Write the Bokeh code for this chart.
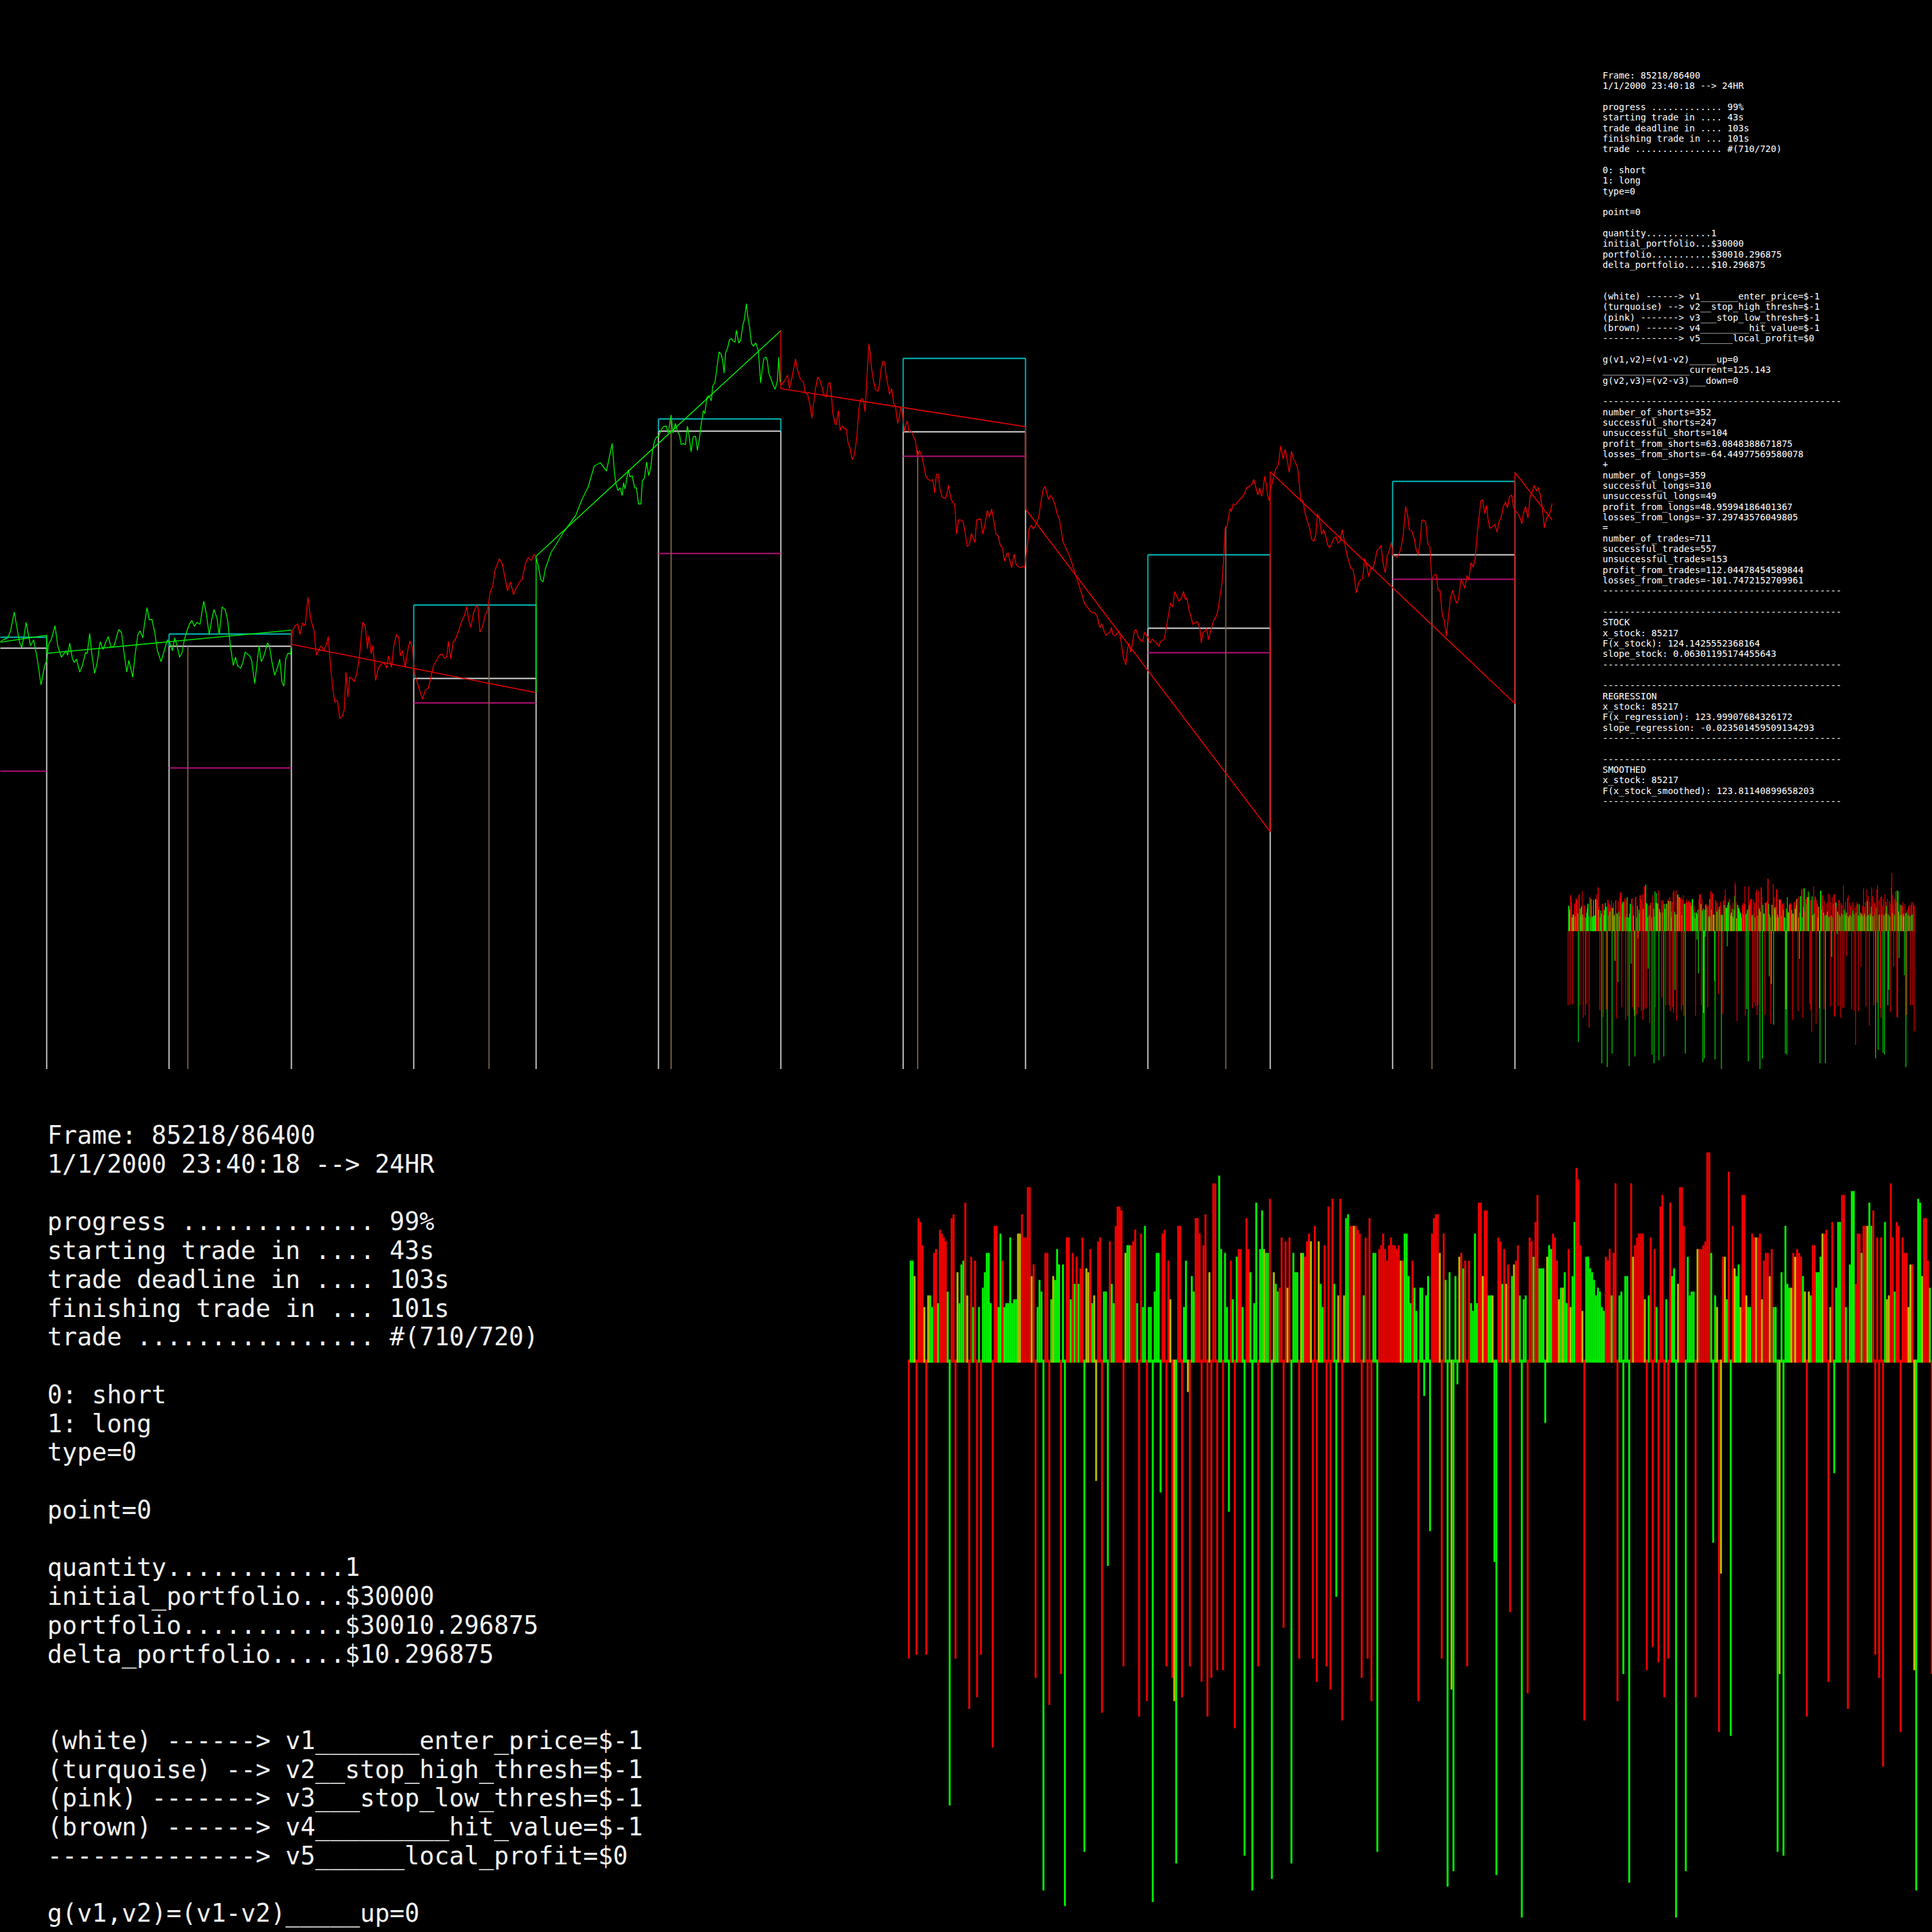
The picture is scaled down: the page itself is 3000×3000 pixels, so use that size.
import numpy as np
from bokeh.plotting import figure
from bokeh.models import Range1d, ColumnDataSource
from bokeh.layouts import row, column
from bokeh.embed import file_html
from bokeh.resources import INLINE
from bokeh.core.properties import value

# ============================ DATA ============================
# trade windows (seconds of the day), 120 s each; trend of the regression in each window
window_start = [84360, 84480, 84600, 84720, 84840, 84960, 85080, 85200]
window_trend_up = [1, 1, 0, 1, 0, 0, 0, 0]
reg_start_price = [121.53, 121.81, 121.95, 123.32, 125.92, 124.05, 124.63, 124.62]
reg_end_time = [84480, 84600, 84720, 84840, 84960, 85080, 85200, 85218.2]
reg_end_price = [122.09, 122.17, 121.20, 126.82, 125.33, 119.04, 121.03, 123.88]

# trade boxes (second half of every other window)
box_start = [84420, 84540, 84660, 84780, 84900, 85020, 85140]
enter_price = [121.89, 121.92, 121.42, 125.26, 125.25, 122.20, 123.34]
stop_high = [122.06, 122.11, 122.56, 125.45, 126.39, 123.34, 124.48]
stop_low = [119.98, 120.03, 121.04, 123.36, 124.87, 121.82, 122.96]
hit_time = [None, 84549.2, 84696.9, 84786.2, 84907.1, 85058.2, 85159.3]
hit_value = [None, 121.92, 122.54, 125.51, 124.96, 123.78, 122.95]

# stock price trace: (time s, price $)
price_trace = [
(84457.3,121.99),(84458.7,122.02),(84460.9,122.05),(84462.3,122.16),(84464.1,122.45),(84465.4,122.21),(84466.7,121.98),(84467.8,121.90),(84469.0,122.10),(84469.9,122.29),
(84471.0,122.10),(84472.1,121.93),(84473.6,122.02),(84475.4,121.72),(84477.2,121.32),(84479.0,121.62),(84480.1,121.70),(84480.8,121.94),(84482.3,122.03),(84484.1,122.24),
(84485.4,121.93),(84487.2,121.75),(84488.4,121.80),(84489.5,121.85),(84490.3,121.78),(84491.3,121.97),(84492.6,121.73),(84493.5,121.67),(84494.6,121.72),(84496.2,121.52),
(84497.5,121.62),(84499.0,121.82),(84499.9,121.81),(84501.1,122.12),(84502.2,121.78),(84503.5,121.50),(84504.8,121.67),(84506.2,121.99),(84507.7,121.87),(84508.9,121.98),
(84510.2,122.07),(84511.6,121.90),(84513.1,121.93),(84514.4,122.08),(84515.3,122.18),(84516.7,122.13),(84518.0,121.80),(84519.3,121.52),(84520.3,121.70),(84522.2,121.44),
(84523.4,121.80),(84524.7,122.10),(84525.8,122.16),(84527.1,122.05),(84528.0,122.28),(84529.2,122.52),(84530.3,122.33),(84531.6,122.34),(84533.0,122.13),(84534.3,121.85),
(84536.1,121.68),(84537.9,121.88),(84539.2,122.02),(84540.3,121.98),(84541.6,121.85),(84542.8,122.05),(84543.9,121.93),(84545.2,121.75),(84546.4,121.82),(84547.5,122.02),
(84548.8,122.16),(84550.1,122.27),(84551.2,122.32),(84552.4,122.23),(84553.7,122.29),(84555.2,122.26),(84556.1,122.44),(84557.0,122.62),(84558.2,122.44),(84559.7,122.10),
(84560.9,122.33),(84562.0,122.49),(84563.5,122.36),(84564.6,122.10),(84566.0,122.53),(84567.5,122.49),(84568.7,122.33),(84570.0,121.95),(84571.5,121.62),(84572.6,121.75),
(84573.6,121.62),(84575.1,121.58),(84576.2,121.67),(84577.3,121.83),(84578.4,121.80),(84579.6,121.77),(84580.5,121.70),(84582.0,121.34),(84583.2,121.67),(84584.2,121.93),
(84585.2,121.68),(84586.3,121.75),(84587.4,121.87),(84588.2,121.97),(84589.2,121.93),(84590.5,121.67),(84591.8,121.47),(84593.2,121.59),(84594.3,121.72),(84595.4,121.36),
(84596.3,121.30),(84597.2,121.72),(84598.3,121.81),(84599.6,121.80),(84599.9,121.90),
(84600.5,122.16),(84601.7,122.23),(84603.2,122.27),(84604.1,122.10),(84605.5,122.28),(84606.8,122.24),(84608.1,122.68),(84609.5,122.33),(84611.0,122.18),(84612.3,121.78),
(84613.5,121.87),(84614.6,121.93),(84615.9,121.85),(84617.2,121.95),(84618.1,122.07),(84619.1,121.64),(84620.4,121.24),(84621.3,121.05),(84622.6,121.08),(84623.7,120.80),
(84624.9,120.83),(84625.9,120.93),(84626.8,121.52),(84627.7,121.13),(84628.6,121.44),(84629.5,121.42),(84630.9,121.37),(84632.2,121.52),(84633.5,121.80),(84634.9,122.29),
(84636.2,122.24),(84637.3,121.88),(84638.0,122.08),(84639.1,121.80),(84640.0,121.93),(84641.3,121.39),(84642.5,121.57),(84644.0,121.64),(84645.4,121.67),(84646.7,121.58),
(84647.6,121.77),(84649.1,121.59),(84650.3,121.95),(84651.6,122.10),(84652.7,122.05),(84653.4,121.77),(84654.5,121.85),(84655.8,121.59),(84657.0,121.85),(84658.1,122.00),
(84659.4,121.90),(84660.3,121.51),(84661.7,121.36),(84663.0,121.22),(84664.3,121.10),(84665.7,121.24),(84667.2,121.27),(84668.4,121.44),(84669.7,121.62),(84671.2,121.70),
(84672.6,121.78),(84673.9,121.80),(84675.2,121.73),(84676.2,121.76),(84677.0,122.00),(84678.1,121.72),(84679.3,121.98),(84680.6,122.04),(84682.0,122.16),(84683.5,122.31),
(84684.8,122.39),(84686.0,122.53),(84687.1,122.31),(84688.0,122.21),(84689.3,122.44),(84690.7,122.55),(84691.5,122.53),(84692.4,122.14),(84693.8,122.23),(84695.1,122.41),
(84696.2,122.49),(84697.5,122.77),(84698.7,122.85),(84699.8,123.10),(84702.0,123.28),(84703.4,123.20),(84704.7,122.99),(84706.0,122.78),(84707.4,122.92),(84708.9,122.72),
(84710.3,122.83),(84712.0,122.92),(84713.2,122.96),(84714.7,123.20),(84716.1,123.30),(84717.6,123.25),(84719.0,123.35),(84719.9,123.30),
(84721.0,123.18),(84722.3,122.95),(84723.4,122.92),(84724.5,123.12),(84727.4,123.38),(84730.4,123.53),(84733.4,123.69),(84736.4,123.82),(84739.4,123.95),(84742.5,124.20),
(84745.5,124.39),(84748.5,124.72),(84751.5,124.77),(84754.5,124.64),
(84757.3,125.07),(84758.4,124.63),(84759.0,124.46),(84760.1,124.34),(84761.2,124.38),(84762.2,124.26),(84762.9,124.46),(84763.6,124.36),(84764.3,124.50),(84765.2,124.66),
(84766.0,124.55),(84767.1,124.57),(84768.3,124.38),(84769.2,124.38),(84770.2,124.13),(84771.4,124.13),(84772.1,124.49),(84773.1,124.53),(84774.2,124.78),(84775.2,124.57),
(84776.3,124.71),(84777.0,124.94),(84778.1,125.11),(84779.1,125.17),(84780.1,125.18),(84781.2,125.27),(84782.4,125.33),(84783.8,125.34),(84784.8,125.23),(84785.5,125.38),
(84786.2,125.51),(84787.1,125.23),(84788.3,125.38),(84789.4,125.25),(84790.4,125.19),(84791.1,125.05),(84792.2,125.07),(84793.2,125.05),(84794.2,125.34),(84795.0,125.19),
(84796.0,124.94),(84797.0,125.17),(84798.2,125.18),(84799.1,124.96),(84800.0,125.13),(84801.0,125.38),(84802.0,125.58),(84802.7,125.53),(84803.8,125.79),(84804.8,125.81),
(84805.9,125.73),(84806.6,125.96),(84807.7,126.02),(84808.7,126.25),(84809.7,126.49),(84810.8,126.45),(84811.5,126.35),(84812.2,126.16),(84812.9,126.48),(84813.9,126.55),
(84814.8,126.68),(84815.8,126.70),(84816.5,126.66),(84817.5,126.64),(84818.2,126.83),(84819.3,126.63),(84820.3,126.67),(84821.4,126.91),(84822.1,126.99),(84823.1,127.24),
(84823.8,127.04),(84824.7,126.87),(84825.6,126.62),(84826.6,126.58),(84827.7,126.63),(84828.9,126.52),(84829.4,126.33),(84830.1,126.01),(84830.9,126.23),(84831.7,126.39),
(84832.7,126.41),(84833.4,126.35),(84834.1,126.16),(84835.1,126.08),(84836.2,125.98),(84837.2,125.91),(84838.3,126.04),(84839.0,126.41),(84839.7,126.02),
(84840.4,125.98),(84841.1,126.01),(84841.8,126.04),(84843.3,126.13),(84844.2,125.92),(84845.4,126.08),(84846.4,126.25),(84847.2,126.38),(84848.2,126.21),(84849.2,126.10),
(84850.3,126.04),(84851.1,126.02),(84852.0,125.85),(84853.1,125.83),(84854.3,125.67),(84855.2,125.46),(84856.0,125.67),(84856.9,125.90),(84858.1,126.10),(84859.0,126.06),
(84860.2,125.94),(84861.3,125.81),(84862.3,125.79),(84863.3,126.00),(84864.1,126.02),(84864.8,125.83),(84865.5,125.54),(84866.5,125.38),(84867.2,125.36),(84868.2,125.58),
(84869.1,125.27),(84870.0,125.34),(84871.2,125.30),(84872.2,125.29),(84872.9,125.09),(84873.9,125.00),(84875.0,124.82),(84876.0,124.88),(84876.8,125.05),(84877.5,125.25),
(84878.2,125.59),(84879.1,125.75),(84879.9,125.77),(84880.6,125.73),(84881.3,125.56),(84882.0,125.96),(84883.2,126.62),(84883.9,126.45),(84884.6,126.21),(84885.6,126.02),
(84886.5,125.90),(84887.7,125.88),(84888.4,126.00),(84889.1,126.21),(84890.1,126.35),(84890.9,126.33),(84891.6,126.12),(84892.6,125.96),(84893.3,125.83),(84894.3,125.92),
(84895.4,125.69),(84896.3,125.63),(84897.3,125.38),(84898.2,125.50),(84898.9,125.63),(84899.6,125.54),(84900.6,125.25),(84901.1,125.34),(84902.0,125.42),(84902.9,125.25),
(84903.9,125.27),(84904.9,125.19),(84906.0,125.11),(84907.0,124.86),(84908.1,124.96),(84909.2,124.86),(84910.2,124.71),(84911.2,124.55),(84912.3,124.51),(84913.5,124.49),
(84914.5,124.51),(84915.4,124.30),(84916.3,124.59),(84917.3,124.59),(84918.0,124.36),(84919.1,124.24),(84920.1,124.22),(84920.8,124.22),(84921.5,124.30),(84922.2,124.42),
(84923.3,124.22),(84924.3,124.15),(84925.3,124.13),(84926.2,123.66),(84927.1,123.88),(84928.1,123.88),(84929.3,123.86),(84930.4,123.68),(84931.4,123.47),(84932.4,123.49),
(84933.5,123.67),(84934.2,123.61),(84935.2,123.53),(84936.0,123.88),(84937.0,123.89),(84938.0,123.90),(84939.1,123.66),(84940.3,123.84),(84941.2,124.03),(84942.2,123.93),
(84943.4,124.05),(84944.5,123.86),(84945.5,123.66),(84946.5,123.64),(84947.6,123.49),(84948.7,123.45),(84949.7,123.24),(84950.7,123.35),(84951.5,123.37),(84952.5,123.22),
(84953.2,123.14),(84954.4,123.35),(84955.3,123.20),(84956.3,123.16),(84957.5,123.14),(84958.6,123.16),(84959.6,123.14),
(84960.3,123.35),(84961.0,123.51),(84961.7,123.74),(84962.8,123.80),(84963.8,123.74),(84964.8,123.79),(84965.6,123.84),(84966.6,123.95),(84967.6,124.17),(84968.7,124.36),
(84969.6,124.40),(84970.4,124.30),(84971.3,124.20),(84972.2,124.26),(84973.2,124.22),(84974.4,124.13),(84975.5,123.97),(84976.5,123.91),(84977.5,123.72),(84978.3,123.55),
(84981.8,123.30),(84985.3,122.96),(84989.0,122.58),(84992.5,122.44),
(84994.1,122.44),(84995.3,122.37),(84996.4,122.21),(84997.4,122.27),(84998.6,122.15),(84999.5,122.09),(85000.4,122.12),(85001.4,122.14),(85002.1,122.21),(85002.9,122.10),
(85003.9,122.08),(85005.0,122.12),(85005.9,122.16),(85006.9,121.99),(85008.0,121.74),(85009.2,121.63),(85010.0,121.88),(85010.7,121.97),(85011.5,121.83),(85012.2,121.92),
(85013.3,122.15),(85014.2,122.18),(85015.3,122.06),(85016.5,122.01),(85017.5,121.99),(85018.3,122.14),(85019.3,122.09),(85020.1,122.06),(85021.0,121.97),(85022.1,122.03),
(85023.1,122.00),(85024.3,121.97),(85025.4,121.92),(85026.1,121.99),(85027.0,122.01),(85028.1,122.03),(85029.2,122.24),(85030.1,122.41),(85031.1,122.59),(85032.2,122.53),
(85033.1,122.77),(85034.1,122.70),(85035.2,122.62),(85036.4,122.66),(85037.5,122.77),(85038.4,122.64),(85039.1,122.68),(85040.2,122.48),(85041.2,122.37),(85042.1,122.26),
(85043.2,122.29),(85044.4,122.30),(85045.5,122.19),(85046.2,121.97),(85047.0,122.13),(85048.0,122.16),(85048.8,122.20),(85049.7,122.02),(85050.8,122.17),(85051.5,122.24),
(85052.4,122.33),(85053.3,122.37),(85054.2,122.45),(85055.3,122.68),(85056.4,122.91),(85057.3,123.35),(85057.9,123.75),(85058.8,123.78),(85059.5,123.91),(85060.3,124.06),
(85060.9,124.01),(85061.8,124.13),(85062.9,124.11),(85063.9,124.16),(85065.1,124.20),(85066.3,124.24),(85067.4,124.29),(85068.4,124.38),(85069.7,124.40),(85070.9,124.43),
(85071.9,124.51),(85073.0,124.38),(85073.9,124.27),(85074.9,124.38),(85075.7,124.25),(85076.4,124.31),(85077.2,124.56),(85078.1,124.42),(85078.7,124.27),(85079.5,124.18),
(85080.2,124.39),(85081.0,124.45),(85081.7,124.56),(85082.8,124.68),(85084.0,124.74),(85085.1,125.03),(85086.3,124.83),(85087.3,124.98),(85088.5,124.78),(85089.3,124.62),
(85090.4,124.95),(85091.3,124.83),(85092.3,124.78),(85093.4,124.69),(85094.1,124.49),(85095.0,124.18),(85096.1,124.18),(85097.1,123.98),(85098.4,123.84),(85099.4,123.75),
(85100.3,123.58),(85101.4,123.55),(85102.3,123.64),(85103.2,123.98),(85104.1,123.89),(85105.2,123.66),(85106.2,123.73),(85107.1,123.64),(85108.2,123.49),(85109.2,123.45),
(85110.1,123.51),(85111.2,123.60),(85112.3,123.62),(85113.2,123.52),(85114.2,123.55),(85115.3,123.73),(85116.2,123.58),(85117.2,123.40),(85118.3,123.26),(85119.5,123.13),
(85120.6,123.11),(85121.5,122.93),(85122.2,122.75),(85123.3,122.90),(85124.3,122.95),(85125.3,122.97),(85126.3,123.28),(85127.4,123.16),(85128.3,123.00),(85129.3,123.14),
(85130.4,123.13),(85131.3,123.24),(85132.4,123.41),(85133.4,123.43),(85134.3,123.49),(85135.4,123.20),(85136.4,123.06),(85137.3,123.32),(85138.4,123.41),(85139.5,123.54),
(85140.2,123.33),(85141.0,123.32),(85142.2,123.30),(85143.2,123.36),(85144.1,123.44),(85145.2,123.64),(85146.4,124.09),(85147.5,123.93),(85148.2,123.73),(85149.4,123.71),
(85150.5,123.60),(85151.5,123.43),(85152.5,123.34),(85153.5,123.53),(85154.3,123.87),(85155.3,123.88),(85156.2,123.85),(85157.3,123.51),(85158.3,123.46),(85159.2,122.95),
(85160.3,123.02),(85161.4,123.04),(85162.3,122.79),(85163.3,122.78),(85164.4,122.39),(85165.3,122.33),(85166.4,122.08),(85167.4,122.39),(85168.3,122.66),(85169.4,122.79),
(85170.4,122.68),(85171.3,122.59),(85172.4,122.66),(85173.5,122.95),(85174.4,122.91),(85175.4,122.82),(85176.5,123.02),(85177.4,122.95),(85178.4,123.22),(85179.5,123.15),
(85180.4,123.26),(85181.5,123.66),(85182.4,123.93),(85183.3,124.18),(85184.2,124.19),(85185.2,123.98),(85186.0,124.11),(85186.9,123.87),(85187.8,123.75),(85189.0,123.78),
(85190.1,123.81),(85191.3,123.69),(85192.0,123.84),(85193.3,123.93),(85194.3,124.09),(85195.4,124.16),(85196.3,124.07),(85197.3,124.24),(85198.4,124.27),(85199.3,124.07),
(85200.3,124.02),(85201.4,123.98),(85202.3,123.93),(85203.4,123.82),(85204.1,123.98),(85205.2,124.09),(85206.4,123.91),(85207.4,124.24),(85208.4,124.31),(85209.4,124.42),
(85210.5,124.33),(85211.4,124.39),(85212.4,124.27),(85213.5,124.06),(85214.4,123.76),(85215.5,123.91),(85216.5,123.95),(85217.4,124.01),(85218.2,124.14),
]

# profit / loss of every closed trade ($); side: 0 short (red), 1 long (green), 2 blended
trade_profit = [
-0.77,0.26,0.26,0.22,-0.76,0.37,0.36,0.30,0.14,-0.76,
0.17,0.17,0.14,0.28,0.29,0.15,0.34,0.33,0.32,0.31,
0.18,-1.15,0.37,0.38,-0.77,0.23,0.15,0.25,0.26,0.41,
0.17,-0.90,0.27,0.14,0.26,-0.87,0.14,-0.76,0.19,0.23,
0.28,0.28,0.15,-1.00,0.35,0.35,0.14,0.33,0.26,0.14,
0.15,0.15,0.32,0.15,0.16,0.16,0.33,0.33,0.38,0.32,
0.32,0.45,0.45,0.22,0.25,-0.82,0.14,0.21,0.18,-1.37,
0.28,0.28,-0.89,0.16,0.22,0.21,0.29,0.25,-0.81,0.25,
-1.41,0.32,0.32,0.16,0.28,0.20,0.27,0.20,0.24,0.32,
-1.27,0.24,0.23,0.29,0.15,0.17,-0.31,0.31,0.32,-0.91,
0.18,0.18,-0.53,0.31,0.20,0.15,0.35,0.40,0.40,0.39,
-0.79,0.28,0.30,0.30,0.30,0.31,0.34,0.15,-0.92,0.33,
0.14,0.35,-0.88,0.14,0.14,-1.40,0.18,0.28,0.28,-0.34,
0.33,0.34,-0.79,0.26,0.16,-0.82,-0.88,-1.30,0.35,0.35,
-0.87,0.14,0.26,-0.08,-0.79,0.22,0.18,0.37,0.37,0.33,
-0.83,0.30,0.38,-0.92,0.23,-0.82,0.46,0.46,-0.80,0.48,
0.29,-0.80,0.28,0.14,-0.39,0.26,0.16,-0.95,0.27,0.29,
0.29,0.14,-1.28,0.37,0.29,0.23,-1.37,0.15,0.41,-0.79,
0.29,0.39,0.29,0.28,0.28,0.42,-1.34,0.23,0.20,0.18,
0.19,0.32,-0.69,0.31,0.19,0.32,-1.30,0.28,0.23,0.23,
-0.77,0.28,0.28,0.27,0.31,0.33,0.31,-0.77,0.35,-0.83,
0.31,0.20,0.14,0.30,-0.79,0.40,-0.85,0.42,0.20,-0.61,
0.17,0.42,-0.93,0.17,0.37,0.38,0.35,0.35,0.35,0.35,
0.34,0.33,-0.82,0.17,0.32,-0.77,0.37,-0.88,0.28,0.28,
-1.27,0.29,0.30,0.33,0.29,0.26,0.30,0.32,0.30,0.30,
0.29,0.30,0.26,0.26,0.33,0.33,0.22,0.15,0.26,0.19,
0.13,-0.88,0.19,0.19,-0.09,0.17,0.22,-0.44,0.33,0.37,
0.38,0.38,0.28,-0.77,0.33,0.21,-1.36,0.23,-0.85,-1.32,
0.22,-0.06,0.27,0.28,0.24,0.26,-0.79,0.26,0.15,0.13,
0.33,0.15,0.41,0.41,0.22,0.39,0.39,0.17,0.17,0.17,
-0.52,-1.33,0.32,0.31,0.20,0.29,0.20,0.25,-0.65,0.22,
0.25,0.26,0.30,0.17,-1.44,0.16,0.17,-0.86,0.32,0.31,
0.27,0.36,0.43,0.24,0.24,0.24,-0.16,0.27,0.30,0.29,
0.33,0.32,0.26,0.16,0.19,0.19,0.23,0.15,0.29,0.14,
0.22,0.36,0.50,0.47,0.30,0.13,-0.93,0.27,0.27,0.24,
0.23,0.21,0.17,0.19,0.18,0.14,0.13,0.27,0.26,0.29,
0.17,0.28,0.46,-0.88,0.17,0.18,-0.81,0.22,0.22,-1.35,
0.46,0.27,0.30,0.32,0.33,0.33,0.33,0.16,-0.80,0.17,
0.32,-0.74,0.29,0.14,-0.78,0.40,0.43,-0.87,0.16,-0.77,
0.41,0.22,0.24,-1.44,0.20,0.45,0.45,0.35,-1.32,0.27,
0.17,0.18,0.18,-0.87,0.29,0.29,0.29,0.30,0.31,0.54,
0.54,0.28,-0.47,0.17,0.14,-0.96,-0.55,0.27,0.27,0.16,
0.49,-0.97,0.35,0.24,0.22,0.25,0.14,0.43,0.43,0.17,
0.14,0.14,0.33,0.32,0.32,0.32,0.33,0.16,0.26,0.28,
0.28,0.22,0.29,0.14,0.14,-1.27,-0.81,0.23,-1.28,0.35,
0.20,0.19,0.19,0.28,0.27,0.29,0.28,0.27,0.22,0.18,
-0.92,0.18,0.17,0.30,0.30,0.23,0.23,0.27,0.33,0.33,
0.34,-0.83,0.14,0.36,-0.29,0.19,0.36,0.36,0.43,0.43,
0.14,-0.90,0.25,0.44,0.44,0.20,0.33,0.33,0.28,0.35,
0.35,0.35,0.41,0.35,0.39,-0.76,0.32,-0.82,0.32,-1.05,
0.36,0.16,0.17,0.46,0.32,0.18,0.36,0.35,-0.96,0.32,
0.28,0.28,0.14,0.25,0.25,-0.80,-1.37,0.42,0.41,0.22,
0.37,0.37,0.26,0.19,-0.81,0.31,0.16,-1.37,0.17,0.28,
0.16,0.20,0.30,0.39,0.14,0.15,0.37,0.30,-0.78,0.16,
-0.27,0.35,0.14,0.28,0.38,-0.88,0.38,-0.89,0.30,0.29,
0.25,-0.03,0.20,-0.78,0.32,0.17,0.32,0.15,-0.90,0.29,
0.18,0.27,-0.80,0.17,0.47,-0.79,0.22,0.18,0.30,0.16,
0.19,-0.26,0.34,0.15,0.37,0.14,0.16,0.29,0.17,0.26,
0.15,-0.81,0.30,0.21,0.18,0.27,-0.83,0.17,0.24,-1.18,
0.19,0.27,0.30,0.28,0.16,-0.83,0.28,0.27,0.15,0.19,
-0.37,0.17,0.18,0.26,0.15,0.44,0.16,0.25,0.18,0.30,
-0.78,0.15,0.43,0.31,0.16,0.36,0.17,-0.98,0.30,0.15,
0.18,0.25,0.45,0.16,0.36,0.15,-0.77,0.30,0.17,0.28,
-1.32,0.24,0.43,-0.74,0.47,-1.23,0.16,0.32,0.17,-0.80,
0.35,-0.90,0.36,0.17,0.26,-1.26,0.33,0.16,-1.28,0.38,
0.18,0.30,0.26,0.18,0.33,-0.77,0.17,-0.61,0.31,0.15,
-0.84,0.28,0.45,0.60,0.37,0.19,0.27,-0.37,0.17,0.33,
0.16,0.41,0.30,-0.89,0.42,-0.90,0.41,0.20,-0.28,0.28,
0.16,0.26,0.27,0.17,0.26,0.16,0.30,0.18,0.15,-0.46,
0.28,0.18,-1.41,0.19,-0.87,0.22,0.16,0.25,0.17,0.27,
0.15,-0.77,0.27,0.16,0.30,0.17,-0.77,0.30,0.27,-1.04,0.26,
]
trade_side = [
0,1,1,2,0,0,0,0,2,0, 2,1,1,0,0,1,0,0,0,0, 1,1,0,0,0,2,1,1,1,0, 2,0,0,1,0,0,1,0,1,1,
1,1,1,0,0,0,1,1,0,1, 1,1,1,1,1,1,2,2,0,0, 0,0,0,2,0,0,1,1,1,1, 0,0,0,1,2,1,1,1,0,1,
1,0,0,1,0,1,0,1,0,0, 1,2,2,0,1,2,2,0,0,0, 1,1,1,0,1,1,0,0,0,0, 0,2,1,1,0,0,0,1,0,0,
1,1,0,1,1,1,1,1,1,1, 0,0,0,0,2,0,2,1,0,0, 0,1,1,2,0,1,1,0,0,0, 0,0,0,0,2,0,0,0,0,1,
1,0,1,1,1,0,1,0,1,0, 0,1,1,0,0,1,1,1,1,0, 1,1,2,1,1,0,1,2,1,1, 0,0,0,0,2,0,1,1,1,1,
0,2,1,0,0,0,2,0,0,0, 2,1,1,0,0,0,0,0,1,1, 2,0,0,2,1,1,0,0,2,0, 0,0,0,1,0,0,0,0,1,1,
1,0,0,0,0,0,0,0,0,0, 0,0,2,0,1,1,1,1,0,1, 1,0,1,1,1,1,1,1,0,0, 0,0,2,0,0,1,1,1,2,1,
1,1,2,0,1,0,0,0,1,1, 1,1,0,0,2,0,0,1,1,2, 1,1,0,0,1,0,2,0,0,1, 2,0,0,1,1,1,1,0,0,0,
1,0,0,1,1,1,1,2,1,1, 0,0,0,2,1,2,1,1,0,2, 1,1,0,0,0,2,0,1,1,1, 1,1,1,1,1,1,1,0,0,0,
1,0,0,0,1,1,1,1,1,1, 0,2,0,0,0,0,0,2,0,1, 0,0,0,1,0,0,0,0,1,0, 0,1,1,1,2,0,0,0,1,1,
1,1,1,0,2,0,0,0,0,0, 0,1,1,1,2,0,2,0,2,1, 0,1,0,2,1,1,2,0,0,2, 1,1,0,0,2,0,0,2,0,0,
0,2,0,1,1,1,2,1,1,1, 1,1,2,0,2,0,0,0,1,2, 0,2,1,0,0,1,1,1,2,0, 0,0,2,0,1,1,1,1,0,0,
1,0,1,1,1,0,0,0,1,0, 0,2,1,1,0,0,0,0,0,0, 1,2,2,0,0,1,0,0,0,0, 0,0,2,2,0,2,1,1,1,2,
0,0,0,1,0,0,1,1,1,0, 1,2,0,0,1,1,0,0,0,1, 1,0,1,0,0,0,0,0,1,1, 0,1,2,0,0,1,0,1,0,0,
1,0,0,1,0,0,1,1,0,1, 2,0,0,1,0,2,1,0,1,0, 1,0,0,1,1,0,0,1,0,0, 1,0,0,0,1,0,1,0,1,2,
0,1,1,0,1,0,1,0,2,0, 0,1,0,1,1,0,1,0,0,1, 2,1,0,1,0,1,0,0,1,0, 1,1,0,0,0,1,1,0,1,0,
0,0,0,1,0,1,0,1,1,0, 1,0,1,2,0,1,1,1,0,1, 0,0,0,0,0,2,0,0,1,0, 1,0,0,0,1,0,1,2,1,0,
1,0,1,1,0,1,0,2,1,1, 0,1,1,1,0,0,1,0,1,0, 1,0,0,1,0,1,0,0,0,0,0,
]

DASH = "-" * 44
info_lines = [
"Frame: 85218/86400",
"1/1/2000 23:40:18 --> 24HR",
"",
"progress ............. 99%",
"starting trade in .... 43s",
"trade deadline in .... 103s",
"finishing trade in ... 101s",
"trade ................ #(710/720)",
"",
"0: short",
"1: long",
"type=0",
"",
"point=0",
"",
"quantity............1",
"initial_portfolio...$30000",
"portfolio...........$30010.296875",
"delta_portfolio.....$10.296875",
"",
"",
"(white) ------> v1_______enter_price=$-1",
"(turquoise) --> v2__stop_high_thresh=$-1",
"(pink) -------> v3___stop_low_thresh=$-1",
"(brown) ------> v4_________hit_value=$-1",
"--------------> v5______local_profit=$0",
"",
"g(v1,v2)=(v1-v2)_____up=0",
"________________current=125.143",
"g(v2,v3)=(v2-v3)___down=0",
"",
DASH,
"number_of_shorts=352",
"successful_shorts=247",
"unsuccessful_shorts=104",
"profit_from_shorts=63.0848388671875",
"losses_from_shorts=-64.44977569580078",
"+",
"number_of_longs=359",
"successful_longs=310",
"unsuccessful_longs=49",
"profit_from_longs=48.95994186401367",
"losses_from_longs=-37.29743576049805",
"=",
"number_of_trades=711",
"successful_trades=557",
"unsuccessful_trades=153",
"profit_from_trades=112.04478454589844",
"losses_from_trades=-101.7472152709961",
DASH,
"",
DASH,
"STOCK",
"x_stock: 85217",
"F(x_stock): 124.1425552368164",
"slope_stock: 0.06301195174455643",
DASH,
"",
DASH,
"REGRESSION",
"x_stock: 85217",
"F(x_regression): 123.99907684326172",
"slope_regression: -0.023501459509134293",
DASH,
"",
DASH,
"SMOOTHED",
"x_stock: 85217",
"F(x_stock_smoothed): 123.81140899658203",
DASH,
]

# ============================ STYLE / LAYOUT ============================
WINDOW = 120
BOX_OFFSET = 60
UP_C, DOWN_C = "#00e800", "#e80000"
WHITE_C, CYAN_C, PINK_C, BROWN_C = "#d9d9d9", "#00c4c4", "#b8107a", "#806446"
SIDE_COLORS = {0: "#f00000", 1: "#00f000", 2: "#bcbc00"}
MONO = "DejaVu Sans Mono"
BLACK_CSS = {"background-color": "#000000"}


def make_fig(w, h, xr, yr):
    f = figure(width=w, height=h, x_range=xr, y_range=yr, output_backend="svg",
               toolbar_location=None, min_border=0, x_axis_location=None,
               y_axis_location=None, background_fill_color="black",
               border_fill_color="black", outline_line_color=None,
               styles=BLACK_CSS)
    f.outline_line_color = None
    f.outline_line_alpha = 0
    f.grid.visible = False
    return f


# ---------------- price panel ----------------
PRICE_W, PRICE_H = 2420, 1660
T_LEFT, T_RIGHT = 84457.26, 85221.5
P_LO, P_HI = 115.35, 131.95
fp = make_fig(PRICE_W, PRICE_H, Range1d(T_LEFT, T_RIGHT), Range1d(P_LO, P_HI))

white_x, white_y, cyan_x, cyan_y, pink_x, pink_y, brown_x, brown_y = [], [], [], [], [], [], [], []
for j, b0 in enumerate(box_start):
    x0, x1 = b0, b0 + BOX_OFFSET
    e, hi, lo = enter_price[j], stop_high[j], stop_low[j]
    white_x += [[x0, x0], [x1, x1], [x0, x1]]
    white_y += [[P_LO, e], [P_LO, e], [e, e]]
    cyan_x += [[x0, x0], [x1, x1], [x0, x1]]
    cyan_y += [[e, hi], [e, hi], [hi, hi]]
    pink_x.append([x0, x1]); pink_y.append([lo, lo])
    if hit_time[j] is not None:
        brown_x.append([hit_time[j], hit_time[j]]); brown_y.append([P_LO, hit_value[j]])

fp.multi_line(white_x, white_y, line_color=WHITE_C, line_width=1.8)
fp.multi_line(pink_x, pink_y, line_color=PINK_C, line_width=1.8)
fp.multi_line(brown_x, brown_y, line_color=BROWN_C, line_width=1.8)
fp.multi_line(cyan_x, cyan_y, line_color=CYAN_C, line_width=1.8)

# regression lines with jumps at window starts
prev = None
for k, ws in enumerate(window_start):
    xs = [ws, reg_end_time[k]]
    ys = [reg_start_price[k], reg_end_price[k]]
    if prev is not None:
        xs = [ws] + xs
        ys = [prev] + ys
    fp.line(xs, ys, line_color=UP_C if window_trend_up[k] else DOWN_C, line_width=1.6)
    prev = reg_end_price[k]

# price line coloured by window trend
pt = np.array([a for a, _ in price_trace])
pp = np.array([b for _, b in price_trace])
for k, ws in enumerate(window_start):
    idx = np.where((pt >= ws) & (pt < ws + WINDOW))[0]
    if len(idx) == 0:
        continue
    if idx[0] > 0:
        idx = np.concatenate([[idx[0] - 1], idx])
    fp.line(pt[idx], pp[idx], line_color=UP_C if window_trend_up[k] else DOWN_C, line_width=1.4)


# ---------------- text panels ----------------
def text_fig(w, h, x0, base_px, step_px, size_px, color):
    yr = Range1d(start=(h - base_px) / step_px, end=-base_px / step_px)
    f = make_fig(w, h, Range1d(0, w), yr)
    # only the lines that fit inside the panel are shown (the rest is cut by the panel edge)
    rows = [(i, s) for i, s in enumerate(info_lines)
            if s and base_px + i * step_px + 0.25 * size_px <= h]
    src = ColumnDataSource(dict(x=[x0] * len(rows), y=[i for i, _ in rows], t=[s for _, s in rows]))
    f.text(x="x", y="y", text="t", source=src, text_font=value(MONO),
           text_font_size=value("%.1fpx" % size_px), text_color=color,
           text_baseline="alphabetic", text_align="left")
    return f


f_info = text_fig(580, 1340, 68, 116.6, 16.33, 14, "#ffffff")
f_bigtext = text_fig(1409, 1340, 73, 102.1, 44.75, 38.4, "#f2f2f2")


# ---------------- bar panels ----------------
def bar_fig(w, h, left_px, px_per_bar, zero_from_top, px_per_unit, bar_w):
    x_start = -left_px / px_per_bar
    xr = Range1d(x_start, x_start + w / px_per_bar)
    yr = Range1d(-(h - zero_from_top) / px_per_unit, zero_from_top / px_per_unit)
    f = make_fig(w, h, xr, yr)
    n = min(len(trade_profit), len(trade_side))
    src = ColumnDataSource(dict(
        x=np.arange(n) + 0.5,
        top=trade_profit[:n],
        color=[SIDE_COLORS[s] for s in trade_side[:n]],
    ))
    f.vbar(x="x", width=bar_w, top="top", bottom=0, fill_color="color", line_color=None, source=src)
    f.vbar(x="x", width=1.0, top=0.004, bottom=-0.004, fill_color="color", line_color=None, source=src)
    return f


f_small = bar_fig(580, 320, 14.1, 0.758, 105, 150, 1.5)
f_big = bar_fig(1591, 1340, 0.0, 3.032, 453, 600, 1.0)

layout = column(
    row(fp, column(f_info, f_small, spacing=0, styles=BLACK_CSS), spacing=0, styles=BLACK_CSS),
    row(f_bigtext, f_big, spacing=0, styles=BLACK_CSS),
    spacing=0,
    styles=BLACK_CSS,
)

open("out.html", "w").write(file_html(layout, INLINE))
